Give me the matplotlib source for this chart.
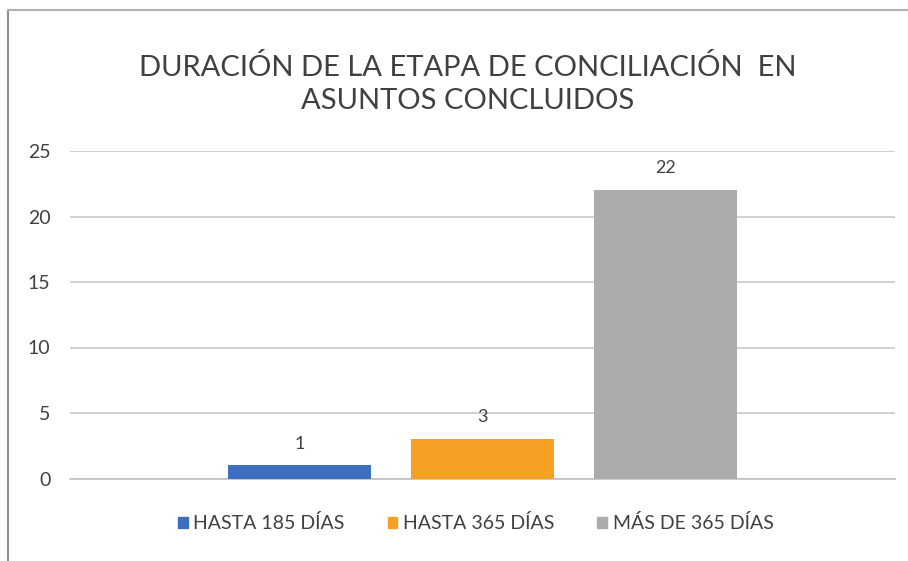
import numpy as np
import matplotlib.pyplot as plt
from matplotlib.lines import Line2D

plt.rcParams['font.family'] = ['Lato', 'DejaVu Sans']

series = ['HASTA 185 DÍAS', 'HASTA 365 DÍAS', 'MÁS DE 365 DÍAS']
values = [1, 3, 22]
colors = ['#3d6ebf', '#f7a024', '#ababab']
yticks = [0, 5, 10, 15, 20, 25]
title = 'DURACIÓN DE LA ETAPA DE CONCILIACIÓN  EN\nASUNTOS CONCLUIDOS'

fig = plt.figure(figsize=(9.08, 5.61), dpi=100)
ax = fig.add_axes([70 / 908, 1 - 478.5 / 561, 825 / 908, 327.5 / 561])

offsets = np.arange(len(values)) - 1
width = 0.78
bars = ax.bar(offsets, values, width=width, color=colors, label=series, zorder=3)
for b, v in zip(bars, values):
    ax.annotate(str(v), (b.get_x() + b.get_width() / 2, v), xytext=(0, 10),
                textcoords='offset points', ha='center', va='bottom',
                fontsize=13, color='#404040')

ax.set_xlim(-2.254, 2.254)
ax.set_ylim(0, 25)
ax.set_yticks(yticks)
ax.set_xticks([])
ax.tick_params(axis='y', length=0, labelsize=14, labelcolor='#404040', pad=14)
ax.grid(axis='y', color='#c8c8c8', linewidth=1.2, zorder=0)
for s in ['top', 'right', 'left']:
    ax.spines[s].set_visible(False)
ax.spines['bottom'].set_color('#c0c0c0')
ax.spines['bottom'].set_linewidth(1.2)

fig.text(0.515, 1 - 84 / 561, title, ha='center', va='center', fontsize=21,
         color='#404040', linespacing=1.38)

handles = [plt.Rectangle((0, 0), 1, 1, color=c) for c in colors]
fig.legend(handles, series, loc='center', bbox_to_anchor=(0.524, 1 - 523 / 561),
           ncol=3, frameon=False, fontsize=14, handlelength=0.5, handleheight=0.5,
           handletextpad=0.3, columnspacing=2.2, labelcolor='#404040')

# borde del recuadro escaneado
fig.add_artist(Line2D([8 / 908, 8 / 908], [0, 1 - 10 / 561], color='#909090', lw=1.5))
fig.add_artist(Line2D([8 / 908, 1], [1 - 10 / 561, 1 - 10 / 561], color='#b0b0b0', lw=1.5))

fig.savefig('out.png', dpi=100)
